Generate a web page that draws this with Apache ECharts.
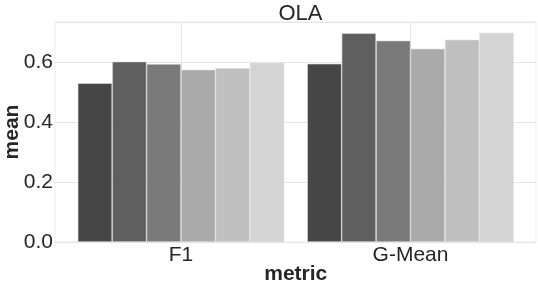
<!DOCTYPE html>
<html>
<head>
<meta charset="utf-8">
<script src="https://cdn.jsdelivr.net/npm/echarts@6/dist/echarts.min.js"></script>
<style>html,body{margin:0;padding:0;background:#fff}#c{width:538px;height:284px}</style>
</head>
<body>
<div id="c"></div>
<script>
const categories = ['F1', 'G-Mean'];
const hueNames = ['s1', 's2', 's3', 's4', 's5', 's6'];
const s1 = [0.529, 0.594];
const s2 = [0.601, 0.696];
const s3 = [0.593, 0.671];
const s4 = [0.574, 0.644];
const s5 = [0.579, 0.674];
const s6 = [0.597, 0.697];
const seriesValues = [s1, s2, s3, s4, s5, s6];
const yTicks = [0, 0.2, 0.4, 0.6];
const colors = ['#464646', '#5f5f5f', '#7a7a7a', '#aaaaaa', '#c0c0c0', '#d4d4d4'];

const FONT = 'Liberation Sans, Arial, sans-serif';
const YMAX = 0.733;
const chart = echarts.init(document.getElementById('c'), null, {renderer: 'canvas'});

const series = seriesValues.map((vals, i) => ({
  name: hueNames[i],
  type: 'bar',
  xAxisIndex: 1,
  yAxisIndex: 1,
  data: vals,
  barGap: '0%',
  barCategoryGap: '10%',
  z: 3,
  itemStyle: {color: colors[i], borderColor: '#e0e0e0', borderWidth: 0.6},
  emphasis: {disabled: true}
}));
series.push({
  type: 'line',
  xAxisIndex: 1,
  yAxisIndex: 1,
  data: [],
  z: 1,
  silent: true,
  markLine: {
    z: 1,
    silent: true,
    symbol: 'none',
    label: {show: false},
    lineStyle: {color: '#e6e6e6', width: 1, type: 'solid'},
    data: categories.map(c => ({xAxis: c}))
  }
});

chart.setOption({
  animation: false,
  title: {
    text: 'OLA',
    left: 295.5,
    top: -2,
    textAlign: 'center',
    textStyle: {fontFamily: FONT, fontSize: 22, fontWeight: 'normal', color: '#262626'}
  },
  grid: [
    {left: 55, right: 2, top: 22, bottom: 42, outerBoundsMode: 'none', containLabel: false, show: true, borderColor: '#ebebeb', borderWidth: 1, backgroundColor: 'transparent'},
    {left: 66.25, right: 12.75, top: 22, bottom: 42, outerBoundsMode: 'none', containLabel: false}
  ],
  xAxis: [
    {gridIndex: 0, type: 'category', data: [''], show: false},
    {
      gridIndex: 1, type: 'category', data: categories,
      axisLine: {show: false}, axisTick: {show: false}, splitLine: {show: false},
      axisLabel: {fontFamily: FONT, fontSize: 21, color: '#262626', margin: 3},
      name: 'metric', nameLocation: 'middle', nameGap: 22, nameMoveOverlap: false,
      nameTextStyle: {fontFamily: FONT, fontSize: 21, fontWeight: 'bold', color: '#262626'}
    }
  ],
  yAxis: [
    {
      gridIndex: 0, type: 'value', min: 0, max: YMAX, interval: 0.2,
      axisLine: {show: false}, axisTick: {show: false},
      splitLine: {show: true, lineStyle: {color: '#e6e6e6', width: 1}},
      axisLabel: {
        fontFamily: FONT, fontSize: 21, color: '#262626', margin: 2, showMaxLabel: false,
        formatter: v => yTicks.some(t => Math.abs(t - v) < 1e-6) ? v.toFixed(1) : ''
      },
      name: 'mean', nameLocation: 'middle', nameGap: 32, nameMoveOverlap: false,
      nameTextStyle: {fontFamily: FONT, fontSize: 21, fontWeight: 'bold', color: '#262626'}
    },
    {gridIndex: 1, type: 'value', min: 0, max: YMAX, show: false}
  ],
  series: series
});
</script>
</body>
</html>
